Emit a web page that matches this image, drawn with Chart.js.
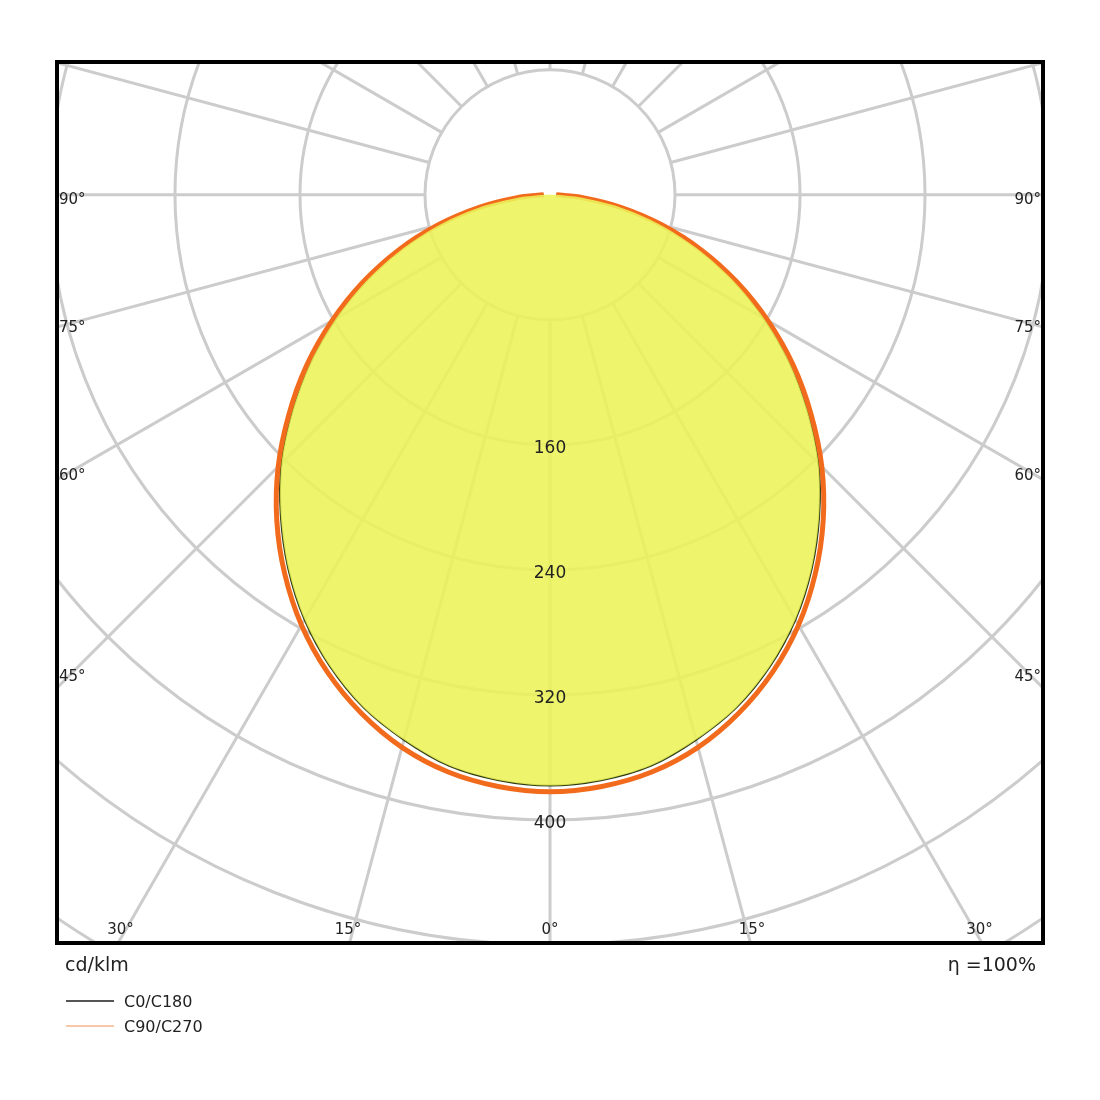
<!DOCTYPE html>
<html><head><meta charset="utf-8">
<script src="https://cdn.jsdelivr.net/npm/chart.js@4/dist/chart.umd.min.js"></script>
<style>body{margin:0;background:#fff}#w{width:1100px;height:1100px}</style>
</head><body><div id="w"><canvas id="c"></canvas></div>
<script>
const angles = [0,5,10,15,20,25,30,35,40,45,50,55,60,65,70,75,80,85,90];
const c0c180 = [378,376,371,361,349,333,314,292,268,243,215,187,158,129,100,72,45,20,4];
const c90c270 = [382,380,375,366,353,337,318,296,272,246,218,190,161,132,103,74,46,21,4];
const ringValues = [80,160,240,320,400,480,560,640];
const ringLabels = ['160','240','320','400'];
const angleLabels = ['90°','75°','60°','45°'];
const bottomLabels = ['30°','15°','0°','15°','30°'];
const seriesNames = ['C0/C180','C90/C270'];

function toXY(vals){
  const pts=[];
  for(let i=angles.length-1;i>=0;i--){const a=angles[i]*Math.PI/180;pts.push({x:-vals[i]*Math.sin(a),y:-vals[i]*Math.cos(a)});}
  for(let i=1;i<angles.length;i++){const a=angles[i]*Math.PI/180;pts.push({x:vals[i]*Math.sin(a),y:-vals[i]*Math.cos(a)});}
  return pts;
}

const gridPlugin={id:'grid',
 beforeDatasetsDraw(ch){
  const {ctx,chartArea:ca,scales:{x,y}}=ch;
  const cx=x.getPixelForValue(0),cy=y.getPixelForValue(0);
  const k=x.getPixelForValue(1)-cx;
  ctx.save();ctx.beginPath();ctx.rect(ca.left,ca.top,ca.right-ca.left,ca.bottom-ca.top);ctx.clip();
  ctx.strokeStyle='#cccccc';ctx.lineWidth=3;
  ringValues.forEach(r=>{ctx.beginPath();ctx.arc(cx,cy,r*k,0,2*Math.PI);ctx.stroke();});
  for(let d=-180;d<180;d+=15){const a=d*Math.PI/180;ctx.beginPath();
    ctx.moveTo(cx+Math.sin(a)*80*k,cy+Math.cos(a)*80*k);ctx.lineTo(cx+Math.sin(a)*1000*k,cy+Math.cos(a)*1000*k);ctx.stroke();}
  ctx.restore();
 },
 afterDraw(ch){
  const {ctx,chartArea:ca,scales:{x,y}}=ch;
  const cx=x.getPixelForValue(0),cy=y.getPixelForValue(0);
  const k=x.getPixelForValue(1)-cx;
  ctx.save();
  ctx.fillStyle='#222';ctx.font='17px "DejaVu Sans"';ctx.textAlign='center';ctx.textBaseline='middle';
  ringLabels.forEach(t=>ctx.fillText(t,cx,cy+(+t)*k+4));
  ctx.font='15px "DejaVu Sans"';
  [90,75,60,45].forEach((d,i)=>{const a=d*Math.PI/180;
    const yp=cy+Math.abs(cx-ca.left)/Math.tan(a);
    const ly=yp+5-(yp-cy)*0.031;
    ctx.textAlign='left';ctx.fillText(angleLabels[i],ca.left+2,ly);
    ctx.textAlign='right';ctx.fillText(angleLabels[i],ca.right-2,ly);});
  ctx.textAlign='center';
  [-30,-15,0,15,30].forEach((d,i)=>{const yp=930;const xp=cx+Math.tan(d*Math.PI/180)*(yp-cy);ctx.fillText(bottomLabels[i],xp+(d===0?0:d>0?5:-5),yp);});
  ctx.strokeStyle='#000';ctx.lineWidth=4;ctx.strokeRect(ca.left,ca.top,ca.right-ca.left,ca.bottom-ca.top);
  ctx.font='19px "DejaVu Sans"';ctx.fillStyle='#222';ctx.textAlign='left';ctx.fillText('cd/klm',65,966);
  ctx.textAlign='right';ctx.fillText('η =100%',1036,966);
  ctx.font='16px "DejaVu Sans"';ctx.textAlign='left';
  const cols=['#555555','#f7c9a8'];
  seriesNames.forEach((n,i)=>{const yy=1003+i*25;ctx.strokeStyle=cols[i];ctx.lineWidth=2;ctx.beginPath();ctx.moveTo(66,yy-2);ctx.lineTo(114,yy-2);ctx.stroke();ctx.fillStyle='#222';ctx.fillText(n,124,yy);});
  ctx.restore();
 }};

new Chart(document.getElementById('c'),{
 type:'scatter',
 data:{datasets:[
  {label:seriesNames[0],data:toXY(c0c180),showLine:true,pointRadius:0,borderWidth:0,borderColor:'rgba(0,0,0,0)',fill:'shape',backgroundColor:'rgba(236,242,88,0.88)',tension:0.3},
  {label:seriesNames[1],data:toXY(c90c270),showLine:true,pointRadius:0,borderColor:'#f26b1d',borderWidth:5,fill:false,tension:0.3},
  {label:seriesNames[0],data:toXY(c0c180),showLine:true,pointRadius:0,borderColor:'#2e3a12',borderWidth:2,fill:false,tension:0.3}
 ]},
 options:{responsive:true,maintainAspectRatio:false,animation:false,
  layout:{padding:{left:57,right:57,top:62,bottom:157}},
  plugins:{legend:{display:false},tooltip:{enabled:false}},
  scales:{x:{type:'linear',min:-315.5,max:315.5,display:false},y:{type:'linear',min:-478.7,max:85,display:false}}},
 plugins:[gridPlugin]
});
</script></body></html>
